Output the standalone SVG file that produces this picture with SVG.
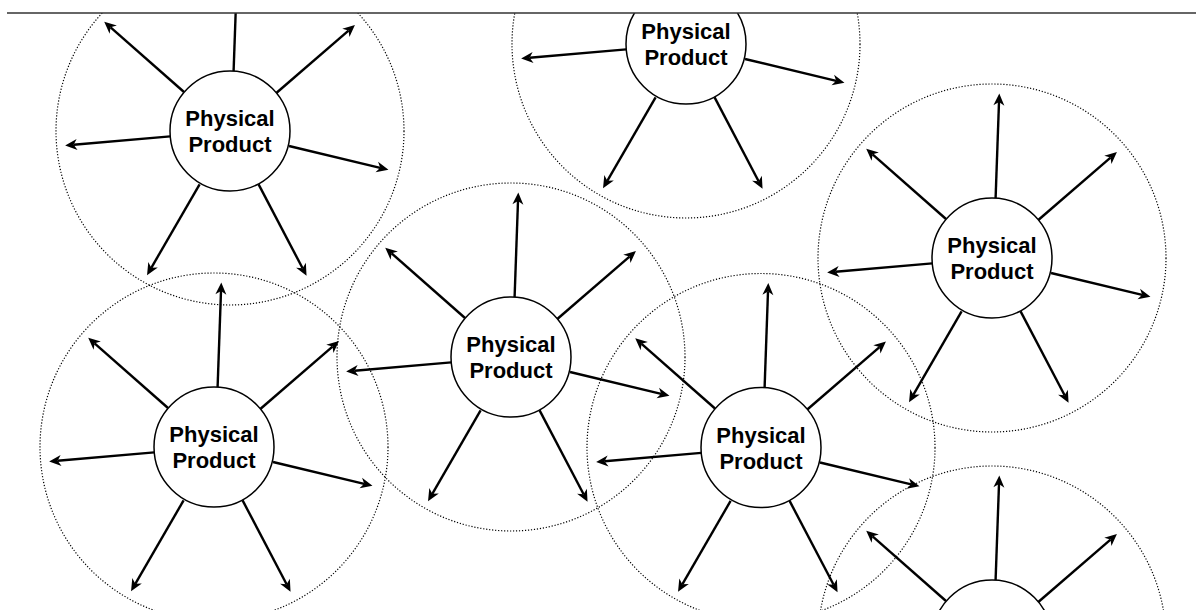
<svg xmlns="http://www.w3.org/2000/svg" width="1196" height="610" viewBox="0 0 1196 610">
<style>
.zone{fill:none;stroke:#000;stroke-width:1.2;stroke-dasharray:1.2 1.8}
.node{fill:#fff;stroke:#000;stroke-width:1.5}
.edge{fill:none;stroke:#000;stroke-width:2.4;marker-end:url(#arr)}
.lbl{font-family:"Liberation Sans",Arial,Helvetica,sans-serif;font-size:22px;font-weight:bold;fill:#000;text-anchor:middle}
.frame{stroke:#333;stroke-width:1.4}
</style>
<defs>
<marker id="arr" markerUnits="userSpaceOnUse" markerWidth="14" markerHeight="12" refX="3.5" refY="5.5" orient="auto" overflow="visible">
<path d="M0,0 L12,5.5 L0,11 L3.5,5.5 z" fill="#000"/>
</marker>
<clipPath id="clip"><rect x="0" y="13" width="1196" height="597"/></clipPath>
</defs>
<rect width="1196" height="610" fill="#fff"/>
<g clip-path="url(#clip)">
<g id="zones">
<circle class="zone" cx="230" cy="131" r="174"/>
<circle class="zone" cx="686" cy="44" r="174"/>
<circle class="zone" cx="992" cy="258" r="174"/>
<circle class="zone" cx="214" cy="447" r="174"/>
<circle class="zone" cx="511" cy="357" r="174"/>
<circle class="zone" cx="761" cy="447.5" r="174"/>
<circle class="zone" cx="992" cy="640" r="174"/>
</g>
<g id="connectors">
<g transform="translate(230,131)">
<path class="edge" d="M3.6,-60 L7,-156"/>
<path class="edge" d="M-46,-39 L-119.4,-103.7"/>
<path class="edge" d="M46.3,-38 L118.5,-100.4"/>
<path class="edge" d="M-59.7,5.4 L-156.4,13.7"/>
<path class="edge" d="M59,15 L150.2,36.8"/>
<path class="edge" d="M-30.4,53.4 L-78.7,136.8"/>
<path class="edge" d="M28.6,53.4 L72.6,137.3"/>
</g>
<g transform="translate(686,44)">
<path class="edge" d="M-59.7,5.4 L-156.4,13.7"/>
<path class="edge" d="M59,15 L150.2,36.8"/>
<path class="edge" d="M-30.4,53.4 L-78.7,136.8"/>
<path class="edge" d="M28.6,53.4 L72.6,137.3"/>
</g>
<g transform="translate(992,258)">
<path class="edge" d="M3.6,-60 L7,-156"/>
<path class="edge" d="M-46,-39 L-119.4,-103.7"/>
<path class="edge" d="M46.3,-38 L118.5,-100.4"/>
<path class="edge" d="M-59.7,5.4 L-156.4,13.7"/>
<path class="edge" d="M59,15 L150.2,36.8"/>
<path class="edge" d="M-30.4,53.4 L-78.7,136.8"/>
<path class="edge" d="M28.6,53.4 L72.6,137.3"/>
</g>
<g transform="translate(214,447)">
<path class="edge" d="M3.6,-60 L7,-156"/>
<path class="edge" d="M-46,-39 L-119.4,-103.7"/>
<path class="edge" d="M46.3,-38 L118.5,-100.4"/>
<path class="edge" d="M-59.7,5.4 L-156.4,13.7"/>
<path class="edge" d="M59,15 L150.2,36.8"/>
<path class="edge" d="M-30.4,53.4 L-78.7,136.8"/>
<path class="edge" d="M28.6,53.4 L72.6,137.3"/>
</g>
<g transform="translate(511,357)">
<path class="edge" d="M3.6,-60 L7,-156"/>
<path class="edge" d="M-46,-39 L-119.4,-103.7"/>
<path class="edge" d="M46.3,-38 L118.5,-100.4"/>
<path class="edge" d="M-59.7,5.4 L-156.4,13.7"/>
<path class="edge" d="M59,15 L150.2,36.8"/>
<path class="edge" d="M-30.4,53.4 L-78.7,136.8"/>
<path class="edge" d="M28.6,53.4 L72.6,137.3"/>
</g>
<g transform="translate(761,447.5)">
<path class="edge" d="M3.6,-60 L7,-156"/>
<path class="edge" d="M-46,-39 L-119.4,-103.7"/>
<path class="edge" d="M46.3,-38 L118.5,-100.4"/>
<path class="edge" d="M-59.7,5.4 L-156.4,13.7"/>
<path class="edge" d="M59,15 L150.2,36.8"/>
<path class="edge" d="M-30.4,53.4 L-78.7,136.8"/>
<path class="edge" d="M28.6,53.4 L72.6,137.3"/>
</g>
<g transform="translate(992,640)">
<path class="edge" d="M3.6,-60 L7,-156"/>
<path class="edge" d="M-46,-39 L-119.4,-103.7"/>
<path class="edge" d="M46.3,-38 L118.5,-100.4"/>
</g>
</g>
<g id="nodeA"><circle class="node" cx="230" cy="131" r="60"/><text class="lbl" x="230" y="126">Physical</text><text class="lbl" x="230" y="152">Product</text></g>
<g id="nodeB"><circle class="node" cx="686" cy="44" r="60"/><text class="lbl" x="686" y="39">Physical</text><text class="lbl" x="686" y="65">Product</text></g>
<g id="nodeC"><circle class="node" cx="992" cy="258" r="60"/><text class="lbl" x="992" y="253">Physical</text><text class="lbl" x="992" y="279">Product</text></g>
<g id="nodeD"><circle class="node" cx="214" cy="447" r="60"/><text class="lbl" x="214" y="442">Physical</text><text class="lbl" x="214" y="468">Product</text></g>
<g id="nodeE"><circle class="node" cx="511" cy="357" r="60"/><text class="lbl" x="511" y="352">Physical</text><text class="lbl" x="511" y="378">Product</text></g>
<g id="nodeF"><circle class="node" cx="761" cy="447.5" r="60"/><text class="lbl" x="761" y="442.5">Physical</text><text class="lbl" x="761" y="468.5">Product</text></g>
<g id="nodeG"><circle class="node" cx="992" cy="640" r="60"/></g>
</g>
<line class="frame" x1="7" y1="13" x2="1196" y2="13"/>
</svg>
